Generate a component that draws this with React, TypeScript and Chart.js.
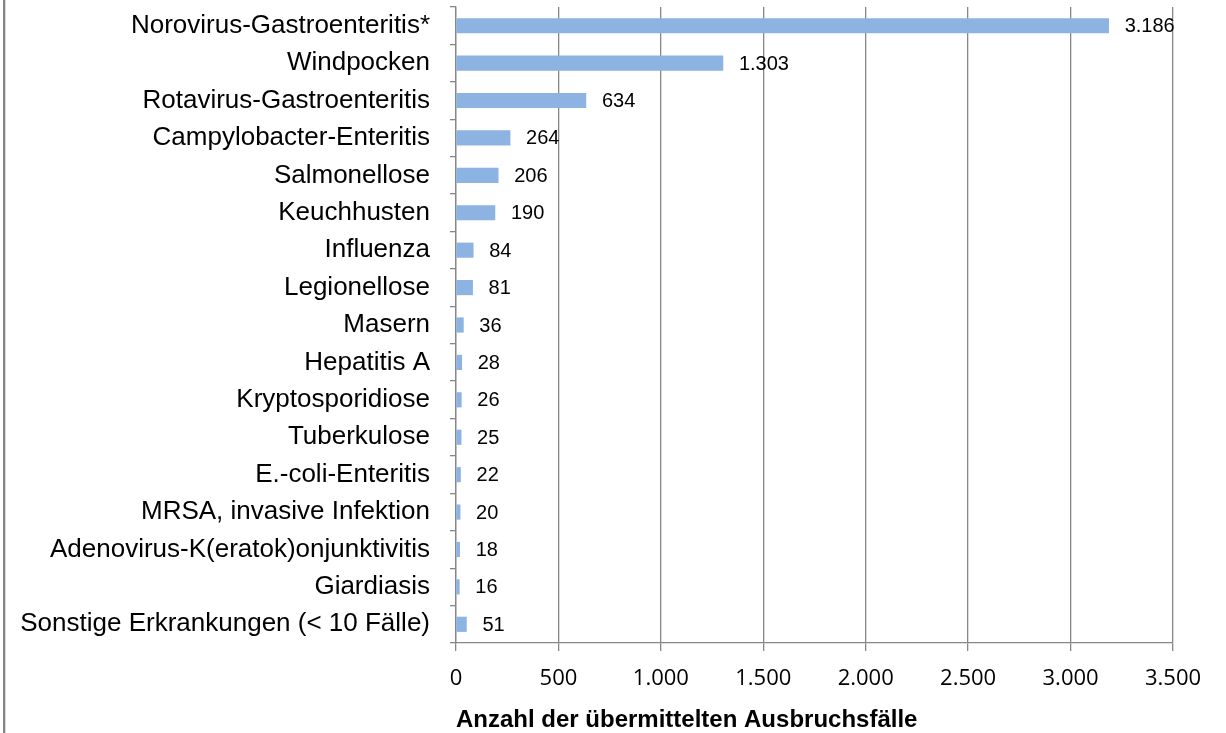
import React, { useEffect, useRef } from "react";
import { Chart, registerables } from "chart.js";

Chart.register(...registerables);

const categories = [
  "Norovirus-Gastroenteritis*",
  "Windpocken",
  "Rotavirus-Gastroenteritis",
  "Campylobacter-Enteritis",
  "Salmonellose",
  "Keuchhusten",
  "Influenza",
  "Legionellose",
  "Masern",
  "Hepatitis A",
  "Kryptosporidiose",
  "Tuberkulose",
  "E.-coli-Enteritis",
  "MRSA, invasive Infektion",
  "Adenovirus-K(eratok)onjunktivitis",
  "Giardiasis",
  "Sonstige Erkrankungen (< 10 Fälle)",
];

const outbreaks = [3186, 1303, 634, 264, 206, 190, 84, 81, 36, 28, 26, 25, 22, 20, 18, 16, 51];

const xTicks = [0, 500, 1000, 1500, 2000, 2500, 3000, 3500];

const axisTitle = "Anzahl der übermittelten Ausbruchsfälle";

const fmt = (v: number) => v.toLocaleString("de-DE");

const GRID = "#878787";
const BAR = "#8DB3E2";

const dataLabels = {
  id: "dataLabels",
  afterDatasetsDraw(chart: any) {
    const ctx = chart.ctx;
    const meta = chart.getDatasetMeta(0);
    const ds = chart.data.datasets[0];
    ctx.save();
    ctx.font = '20px "Liberation Sans", Arial, sans-serif';
    ctx.fillStyle = "#000";
    ctx.textAlign = "left";
    ctx.textBaseline = "middle";
    meta.data.forEach((el: any, i: number) => {
      ctx.fillText(fmt(ds.data[i] as number), el.x + 16, el.y + 1);
    });
    ctx.restore();
  },
};

const frameLine = {
  id: "frameLine",
  beforeDraw(chart: any) {
    const ctx = chart.ctx;
    ctx.save();
    ctx.fillStyle = "#858585";
    ctx.fillRect(3, 0, 2.3, chart.height);
    ctx.restore();
  },
};

export default function App() {
  const ref = useRef<HTMLCanvasElement>(null);

  useEffect(() => {
    if (!ref.current) return;
    const chart = new Chart(ref.current, {
      type: "bar",
      data: {
        labels: categories,
        datasets: [
          {
            data: outbreaks,
            backgroundColor: BAR,
            borderWidth: 0,
            barThickness: 14.5,
          },
        ],
      },
      options: {
        indexAxis: "y",
        animation: false,
        responsive: false,
        layout: { padding: { top: 7, right: 53, left: 0, bottom: 0 } },
        plugins: {
          legend: { display: false },
          tooltip: { enabled: false },
        },
        scales: {
          x: {
            min: 0,
            max: 3500,
            afterFit: (s: any) => {
              s.height = 90;
              s.paddingLeft = 0;
              s.paddingRight = 0;
            },
            afterBuildTicks: (s: any) => {
              s.ticks = xTicks.map((v) => ({ value: v }));
            },
            ticks: {
              callback: (v: any) => fmt(Number(v)),
              font: { family: '"Open Sans", sans-serif', size: 22 },
              color: "#000",
              padding: 15,
              maxRotation: 0,
            },
            grid: {
              color: GRID,
              lineWidth: 1.3,
              tickLength: 8,
            },
            border: { color: GRID, width: 1.3 },
            title: {
              display: true,
              text: axisTitle,
              align: "start",
              color: "#000",
              font: { family: '"Liberation Sans", Arial, sans-serif', size: 24, weight: "bold" },
              padding: { top: 0, bottom: -2 },
            },
          },
          y: {
            afterFit: (s: any) => {
              s.width = 456;
              s.paddingTop = 0;
              s.paddingBottom = 0;
            },
            ticks: {
              font: { family: '"Liberation Sans", Arial, sans-serif', size: 26 },
              color: "#000",
              padding: 20,
              autoSkip: false,
            },
            grid: {
              drawOnChartArea: false,
              color: GRID,
              lineWidth: 1.3,
              tickLength: 6,
            },
            border: { color: GRID, width: 1.3 },
          },
        },
      },
      plugins: [dataLabels, frameLine],
    });
    return () => chart.destroy();
  }, []);

  return (
    <div style={{ position: "absolute", left: 0, top: 0, width: 1226, height: 733, background: "#fff" }}>
      <canvas ref={ref} width={1226} height={733} style={{ display: "block" }} />
    </div>
  );
}
